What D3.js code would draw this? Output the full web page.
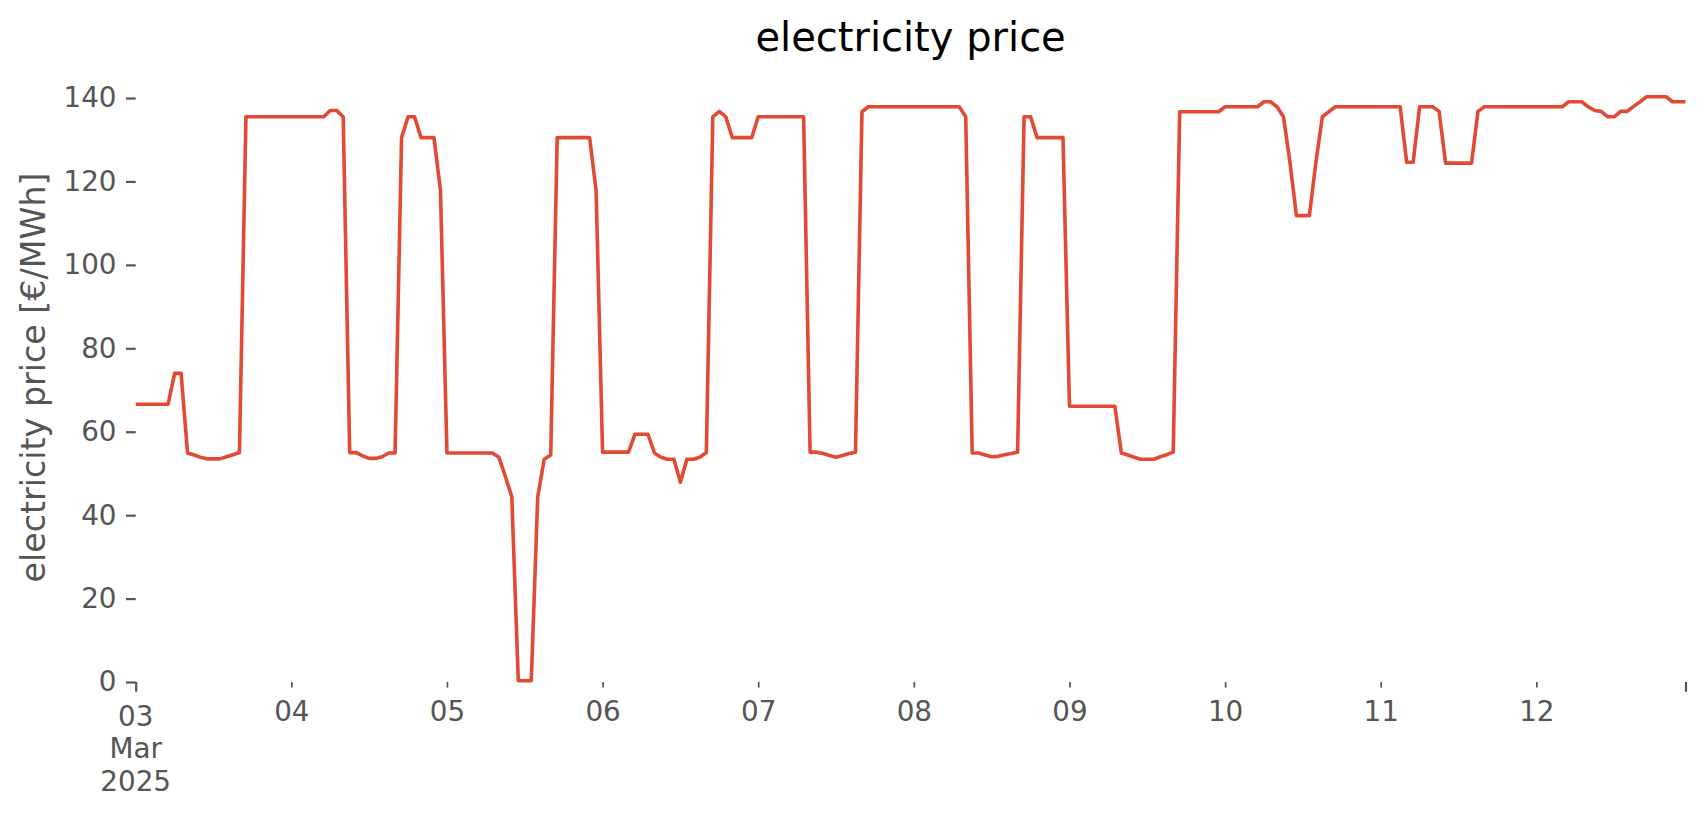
<!DOCTYPE html>
<html>
<head>
<meta charset="utf-8">
<script src="https://cdn.jsdelivr.net/npm/d3@7"></script>
<style>
  html, body { margin: 0; padding: 0; background: #ffffff; }
  svg { display: block; font-family: "DejaVu Sans", sans-serif; }
</style>
</head>
<body>
<svg id="chart" width="1706" height="815"></svg>
<script>
// ---- data ----
const startDate = Date.UTC(2025, 2, 3, 0, 0, 0); // 03 Mar 2025 00:00, hourly data
const prices = [
  66.6, 66.6, 66.6, 66.6, 66.6, 66.6, 74.0, 74.0, 54.9, 54.4, 53.9, 53.5, 53.5, 53.5, 54.0, 54.5,
  55.0, 135.5, 135.5, 135.5, 135.5, 135.5, 135.5, 135.5, 135.5, 135.5, 135.5, 135.5, 135.5, 135.5, 137.0, 137.0,
  135.5, 55.0, 55.0, 54.2, 53.6, 53.6, 54.0, 54.9, 54.9, 130.5, 135.5, 135.5, 130.5, 130.5, 130.5, 117.8,
  54.9, 54.9, 54.9, 54.9, 54.9, 54.9, 54.9, 54.9, 53.9, 49.3, 44.4, 0.3, 0.3, 0.3, 44.4, 53.4,
  54.4, 130.5, 130.5, 130.5, 130.5, 130.5, 130.5, 117.8, 55.1, 55.1, 55.1, 55.1, 55.1, 59.4, 59.4, 59.4,
  54.9, 53.9, 53.4, 53.4, 47.9, 53.4, 53.4, 53.9, 55.0, 135.5, 136.8, 135.5, 130.5, 130.5, 130.5, 130.5,
  135.5, 135.5, 135.5, 135.5, 135.5, 135.5, 135.5, 135.5, 55.1, 55.1, 54.8, 54.3, 53.9, 54.3, 54.8, 55.1,
  136.7, 137.9, 137.9, 137.9, 137.9, 137.9, 137.9, 137.9, 137.9, 137.9, 137.9, 137.9, 137.9, 137.9, 137.9, 137.9,
  135.5, 54.9, 54.9, 54.4, 54.0, 54.1, 54.5, 54.8, 55.1, 135.5, 135.5, 130.5, 130.5, 130.5, 130.5, 130.5,
  66.1, 66.1, 66.1, 66.1, 66.1, 66.1, 66.1, 66.1, 54.9, 54.4, 53.9, 53.4, 53.4, 53.4, 54.0, 54.5,
  55.1, 136.7, 136.7, 136.7, 136.7, 136.7, 136.7, 136.7, 137.9, 137.9, 137.9, 137.9, 137.9, 137.9, 139.1, 139.1,
  137.9, 135.5, 124.6, 111.8, 111.8, 111.8, 124.6, 135.5, 136.7, 137.9, 137.9, 137.9, 137.9, 137.9, 137.9, 137.9,
  137.9, 137.9, 137.9, 137.9, 124.6, 124.6, 137.9, 137.9, 137.9, 136.8, 124.4, 124.4, 124.4, 124.4, 124.4, 136.8,
  137.9, 137.9, 137.9, 137.9, 137.9, 137.9, 137.9, 137.9, 137.9, 137.9, 137.9, 137.9, 137.9, 139.1, 139.1, 139.1,
  137.9, 137.0, 136.8, 135.5, 135.5, 136.8, 136.8, 138.0, 139.1, 140.3, 140.3, 140.3, 140.3, 139.1, 139.1, 139.1
];
const yTicks = [0, 20, 40, 60, 80, 100, 120, 140];
const dayLabels = ["03", "04", "05", "06", "07", "08", "09", "10", "11", "12"];
const firstLabelLines = ["03", "Mar", "2025"];
const titleText = "electricity price";
const yLabelText = "electricity price [€/MWh]";

const dates = prices.map((_, i) => new Date(startDate + i * 3600 * 1000));
const data = dates.map((d, i) => ({ date: d, value: prices[i] }));

// ---- layout ----
const svg = d3.select("#chart");
const plotLeft = 135.7, plotRight = 1685.5, plotBottom = 682, plotTop = 73;
const textColor = "#555555";

const x = d3.scaleUtc()
  .domain([dates[0], dates[dates.length - 1]])
  .range([plotLeft, plotRight]);
const y = d3.scaleLinear()
  .domain([0, 146])
  .range([plotBottom, plotTop]);

// ---- y axis ----
const yAxis = d3.axisLeft(y)
  .tickValues(yTicks)
  .tickSize(9.7)
  .tickPadding(9.5)
  .tickFormat(d3.format("d"));
const gy = svg.append("g")
  .attr("transform", `translate(${plotLeft},0)`)
  .call(yAxis);
gy.select(".domain").remove();
gy.selectAll(".tick line").attr("stroke", textColor).attr("stroke-width", 2.2);
gy.selectAll(".tick text")
  .attr("fill", textColor)
  .attr("font-size", 27.8)
  .attr("font-family", "DejaVu Sans");

// ---- x axis: minor day ticks ----
const dayTicks = d3.utcDay.range(dates[0], dates[dates.length - 1]);
const minorTicks = dayTicks.slice(1);
const xMinor = d3.axisBottom(x)
  .tickValues(minorTicks)
  .tickSize(5.6)
  .tickPadding(14)
  .tickFormat((d, i) => dayLabels[i + 1]);
const gxm = svg.append("g")
  .attr("transform", `translate(0,${plotBottom})`)
  .call(xMinor);
gxm.select(".domain").remove();
gxm.selectAll(".tick line").attr("stroke", textColor).attr("stroke-width", 1.7);
gxm.selectAll(".tick text")
  .attr("fill", textColor)
  .attr("font-size", 27.8)
  .attr("font-family", "DejaVu Sans");

// ---- x axis: major ticks (start and end) ----
const majorTicks = [dates[0], dates[dates.length - 1]];
const xMajor = d3.axisBottom(x)
  .tickValues(majorTicks)
  .tickSize(9.7)
  .tickPadding(9.5)
  .tickFormat(() => "");
const gxM = svg.append("g")
  .attr("transform", `translate(0,${plotBottom})`)
  .call(xMajor);
gxM.select(".domain").remove();
gxM.selectAll(".tick line").attr("stroke", textColor).attr("stroke-width", 2.2);
gxM.selectAll(".tick text").remove();

// multi-line first label
const firstLabel = svg.append("text")
  .attr("x", x(dates[0]))
  .attr("y", 725.5)
  .attr("text-anchor", "middle")
  .attr("fill", textColor)
  .attr("font-size", 27.8)
  .attr("font-family", "DejaVu Sans");
firstLabel.selectAll("tspan")
  .data(firstLabelLines)
  .join("tspan")
  .attr("x", x(dates[0]))
  .attr("dy", (d, i) => i === 0 ? 0 : 32.6)
  .text(d => d);

// ---- line ----
const line = d3.line()
  .x(d => x(d.date))
  .y(d => y(d.value));
svg.append("path")
  .datum(data)
  .attr("fill", "none")
  .attr("stroke", "#E24A33")
  .attr("stroke-width", 3.6)
  .attr("stroke-linejoin", "round")
  .attr("stroke-linecap", "butt")
  .attr("d", line);

// ---- title ----
svg.append("text")
  .attr("x", (plotLeft + plotRight) / 2)
  .attr("y", 50.5)
  .attr("text-anchor", "middle")
  .attr("fill", "#000000")
  .attr("font-size", 40)
  .attr("font-family", "DejaVu Sans")
  .text(titleText);

// ---- y label ----
svg.append("text")
  .attr("transform", `translate(45,${(plotTop + plotBottom) / 2}) rotate(-90)`)
  .attr("text-anchor", "middle")
  .attr("fill", textColor)
  .attr("font-size", 33.3)
  .attr("font-family", "DejaVu Sans")
  .text(yLabelText);
</script>
</body>
</html>
